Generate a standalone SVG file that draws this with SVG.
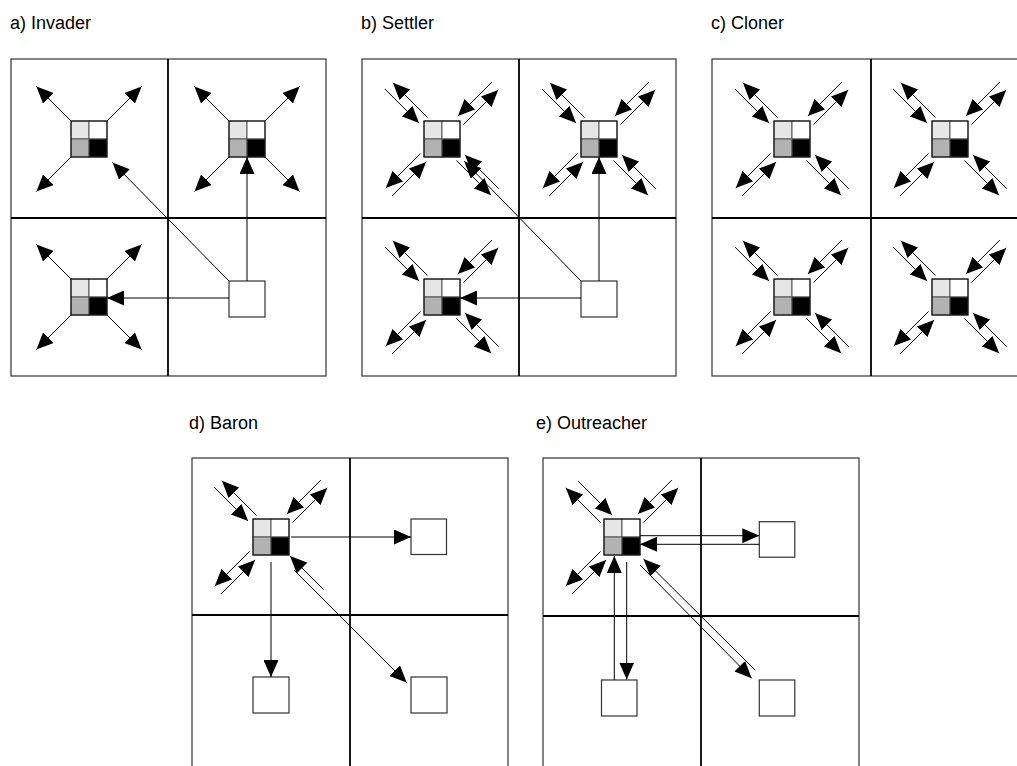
<svg xmlns="http://www.w3.org/2000/svg" width="1017" height="766" viewBox="0 0 1017 766">
<style>
.bg{fill:#fff}
.frame{fill:none;stroke:#333;stroke-width:1.2}
.mid{stroke:#000;stroke-width:1.8}
.c1{fill:#e6e6e6}.c2{fill:#fff}.c3{fill:#b2b2b2}.c4{fill:#000}
.cell{stroke:#555;stroke-width:1}
.qb{fill:none;stroke:#000;stroke-width:1}
.plain{fill:#fff;stroke:#333;stroke-width:1.2}
.ar{stroke:#000;stroke-width:1;fill:none;marker-end:url(#ah)}
.lbl{font-family:"Liberation Sans",Arial,sans-serif;font-size:18px;fill:#000}
</style>
<defs>
<marker id="ah" viewBox="0 0 17 15" refX="17" refY="7.5" markerWidth="17" markerHeight="15" markerUnits="userSpaceOnUse" orient="auto"><path d="M0,0L17,7.5L0,15z" fill="#000"/></marker>
</defs>
<rect class="bg" x="0" y="0" width="1017" height="766"/>

<g id="labels">
<text class="lbl" x="10" y="29">a) Invader</text>
<text class="lbl" x="361" y="29">b) Settler</text>
<text class="lbl" x="711" y="29">c) Cloner</text>
<text class="lbl" x="189" y="429">d) Baron</text>
<text class="lbl" x="536" y="429">e) Outreacher</text>
</g>

<g id="frames">
<g id="frame-a"><rect class="frame" x="11" y="59" width="315" height="317"/><line class="mid" x1="168" y1="59" x2="168" y2="376"/><line class="mid" x1="11" y1="218" x2="326" y2="218"/></g>
<g id="frame-b"><rect class="frame" x="362" y="59" width="314" height="317"/><line class="mid" x1="519" y1="59" x2="519" y2="376"/><line class="mid" x1="362" y1="218" x2="676" y2="218"/></g>
<g id="frame-c"><rect class="frame" x="712" y="59" width="317" height="317"/><line class="mid" x1="871" y1="59" x2="871" y2="376"/><line class="mid" x1="712" y1="218" x2="1029" y2="218"/></g>
<g id="frame-d"><rect class="frame" x="192" y="458" width="316" height="320"/><line class="mid" x1="350" y1="458" x2="350" y2="778"/><line class="mid" x1="192" y1="615" x2="508" y2="615"/></g>
<g id="frame-e"><rect class="frame" x="543" y="458" width="316" height="320"/><line class="mid" x1="701" y1="458" x2="701" y2="778"/><line class="mid" x1="543" y1="616" x2="859" y2="616"/></g>
</g>

<g id="nodes">
<g id="a-q1"><rect class="cell c1" x="71" y="121" width="18" height="18"/><rect class="cell c2" x="89" y="121" width="18" height="18"/><rect class="cell c3" x="71" y="139" width="18" height="18"/><rect class="cell c4" x="89" y="139" width="18" height="18"/><rect class="qb" x="71" y="121" width="36" height="36"/></g>
<g id="a-q2"><rect class="cell c1" x="229" y="121" width="18" height="18"/><rect class="cell c2" x="247" y="121" width="18" height="18"/><rect class="cell c3" x="229" y="139" width="18" height="18"/><rect class="cell c4" x="247" y="139" width="18" height="18"/><rect class="qb" x="229" y="121" width="36" height="36"/></g>
<g id="a-q3"><rect class="cell c1" x="71" y="279" width="18" height="18"/><rect class="cell c2" x="89" y="279" width="18" height="18"/><rect class="cell c3" x="71" y="297" width="18" height="18"/><rect class="cell c4" x="89" y="297" width="18" height="18"/><rect class="qb" x="71" y="279" width="36" height="36"/></g>
<g id="a-p"><rect class="plain" x="229" y="281" width="36" height="36"/></g>

<g id="b-q1"><rect class="cell c1" x="424" y="121" width="18" height="18"/><rect class="cell c2" x="442" y="121" width="18" height="18"/><rect class="cell c3" x="424" y="139" width="18" height="18"/><rect class="cell c4" x="442" y="139" width="18" height="18"/><rect class="qb" x="424" y="121" width="36" height="36"/></g>
<g id="b-q2"><rect class="cell c1" x="581" y="121" width="18" height="18"/><rect class="cell c2" x="599" y="121" width="18" height="18"/><rect class="cell c3" x="581" y="139" width="18" height="18"/><rect class="cell c4" x="599" y="139" width="18" height="18"/><rect class="qb" x="581" y="121" width="36" height="36"/></g>
<g id="b-q3"><rect class="cell c1" x="424" y="279" width="18" height="18"/><rect class="cell c2" x="442" y="279" width="18" height="18"/><rect class="cell c3" x="424" y="297" width="18" height="18"/><rect class="cell c4" x="442" y="297" width="18" height="18"/><rect class="qb" x="424" y="279" width="36" height="36"/></g>
<g id="b-p"><rect class="plain" x="581" y="281" width="36" height="36"/></g>

<g id="c-q1"><rect class="cell c1" x="774" y="121" width="18" height="18"/><rect class="cell c2" x="792" y="121" width="18" height="18"/><rect class="cell c3" x="774" y="139" width="18" height="18"/><rect class="cell c4" x="792" y="139" width="18" height="18"/><rect class="qb" x="774" y="121" width="36" height="36"/></g>
<g id="c-q2"><rect class="cell c1" x="932" y="121" width="18" height="18"/><rect class="cell c2" x="950" y="121" width="18" height="18"/><rect class="cell c3" x="932" y="139" width="18" height="18"/><rect class="cell c4" x="950" y="139" width="18" height="18"/><rect class="qb" x="932" y="121" width="36" height="36"/></g>
<g id="c-q3"><rect class="cell c1" x="774" y="279" width="18" height="18"/><rect class="cell c2" x="792" y="279" width="18" height="18"/><rect class="cell c3" x="774" y="297" width="18" height="18"/><rect class="cell c4" x="792" y="297" width="18" height="18"/><rect class="qb" x="774" y="279" width="36" height="36"/></g>
<g id="c-q4"><rect class="cell c1" x="932" y="279" width="18" height="18"/><rect class="cell c2" x="950" y="279" width="18" height="18"/><rect class="cell c3" x="932" y="297" width="18" height="18"/><rect class="cell c4" x="950" y="297" width="18" height="18"/><rect class="qb" x="932" y="279" width="36" height="36"/></g>

<g id="d-q"><rect class="cell c1" x="253" y="519" width="18" height="18"/><rect class="cell c2" x="271" y="519" width="18" height="18"/><rect class="cell c3" x="253" y="537" width="18" height="18"/><rect class="cell c4" x="271" y="537" width="18" height="18"/><rect class="qb" x="253" y="519" width="36" height="36"/></g>
<g id="d-p1"><rect class="plain" x="411" y="519" width="35.5" height="35.5"/></g>
<g id="d-p2"><rect class="plain" x="253" y="677" width="36" height="36"/></g>
<g id="d-p3"><rect class="plain" x="411" y="677" width="36" height="36"/></g>

<g id="e-q"><rect class="cell c1" x="604" y="519" width="18" height="18"/><rect class="cell c2" x="622" y="519" width="18" height="18"/><rect class="cell c3" x="604" y="537" width="18" height="18"/><rect class="cell c4" x="622" y="537" width="18" height="18"/><rect class="qb" x="604" y="519" width="36" height="36"/></g>
<g id="e-p1"><rect class="plain" x="759.3" y="521.7" width="35.5" height="35.5"/></g>
<g id="e-p2"><rect class="plain" x="601.5" y="680" width="35.5" height="36"/></g>
<g id="e-p3"><rect class="plain" x="759.3" y="680" width="35.5" height="36"/></g>
</g>

<g id="connectors">
<g id="conn-a">
<line class="ar" x1="71" y1="121" x2="36.4" y2="86.4"/>
<line class="ar" x1="107" y1="121" x2="141.6" y2="86.4"/>
<line class="ar" x1="71" y1="157" x2="36.4" y2="191.6"/>
<line class="ar" x1="229" y1="121" x2="194.4" y2="86.4"/>
<line class="ar" x1="265" y1="121" x2="299.6" y2="86.4"/>
<line class="ar" x1="229" y1="157" x2="194.4" y2="191.6"/>
<line class="ar" x1="265" y1="157" x2="299.6" y2="191.6"/>
<line class="ar" x1="71" y1="279" x2="36.4" y2="244.4"/>
<line class="ar" x1="107" y1="279" x2="141.6" y2="244.4"/>
<line class="ar" x1="71" y1="315" x2="36.4" y2="349.6"/>
<line class="ar" x1="107" y1="315" x2="141.6" y2="349.6"/>
<line class="ar" x1="229" y1="281" x2="112.5" y2="162.5"/>
<line class="ar" x1="247" y1="281" x2="247" y2="157"/>
<line class="ar" x1="229" y1="298" x2="107" y2="298"/>
</g>
<g id="conn-b">
<line class="ar" x1="427.5" y1="117.5" x2="392.9" y2="82.8"/><line class="ar" x1="385.1" y1="89.2" x2="419.1" y2="123.1"/>
<line class="ar" x1="463.5" y1="124.5" x2="498.2" y2="89.9"/><line class="ar" x1="491.8" y1="82.1" x2="457.9" y2="116.1"/>
<line class="ar" x1="456.5" y1="160.5" x2="491.1" y2="195.2"/><line class="ar" x1="498.9" y1="188.8" x2="465" y2="154.9"/>
<line class="ar" x1="420.5" y1="153.5" x2="385.8" y2="188.1"/><line class="ar" x1="392.2" y1="195.9" x2="426.1" y2="161.9"/>
<line class="ar" x1="581" y1="281" x2="464.2" y2="161.2"/>
<line class="ar" x1="584.5" y1="117.5" x2="549.9" y2="82.8"/><line class="ar" x1="542.1" y1="89.2" x2="576.1" y2="123.1"/>
<line class="ar" x1="620.5" y1="124.5" x2="655.2" y2="89.9"/><line class="ar" x1="648.8" y1="82.1" x2="614.9" y2="116.1"/>
<line class="ar" x1="613.5" y1="160.5" x2="648.1" y2="195.2"/><line class="ar" x1="655.9" y1="188.8" x2="622" y2="154.9"/>
<line class="ar" x1="577.5" y1="153.5" x2="542.8" y2="188.1"/><line class="ar" x1="549.2" y1="195.9" x2="583.1" y2="161.9"/>
<line class="ar" x1="599" y1="281" x2="599" y2="157"/>
<line class="ar" x1="427.5" y1="275.5" x2="392.9" y2="240.8"/><line class="ar" x1="385.1" y1="247.2" x2="419.1" y2="281.1"/>
<line class="ar" x1="463.5" y1="282.5" x2="498.2" y2="247.9"/><line class="ar" x1="491.8" y1="240.1" x2="457.9" y2="274.1"/>
<line class="ar" x1="456.5" y1="318.5" x2="491.1" y2="353.2"/><line class="ar" x1="498.9" y1="346.8" x2="465" y2="312.9"/>
<line class="ar" x1="420.5" y1="311.5" x2="385.8" y2="346.1"/><line class="ar" x1="392.2" y1="353.9" x2="426.1" y2="319.9"/>
<line class="ar" x1="581" y1="298" x2="460" y2="298"/>
</g>
<g id="conn-c">
<line class="ar" x1="777.5" y1="117.5" x2="742.9" y2="82.8"/><line class="ar" x1="735.1" y1="89.2" x2="769.1" y2="123.1"/>
<line class="ar" x1="813.5" y1="124.5" x2="848.2" y2="89.9"/><line class="ar" x1="841.8" y1="82.1" x2="807.9" y2="116.1"/>
<line class="ar" x1="806.5" y1="160.5" x2="841.1" y2="195.2"/><line class="ar" x1="848.9" y1="188.8" x2="815" y2="154.9"/>
<line class="ar" x1="770.5" y1="153.5" x2="735.8" y2="188.1"/><line class="ar" x1="742.2" y1="195.9" x2="776.1" y2="161.9"/>
<line class="ar" x1="935.5" y1="117.5" x2="900.9" y2="82.8"/><line class="ar" x1="893.1" y1="89.2" x2="927.1" y2="123.1"/>
<line class="ar" x1="971.5" y1="124.5" x2="1006.2" y2="89.9"/><line class="ar" x1="999.8" y1="82.1" x2="965.9" y2="116.1"/>
<line class="ar" x1="964.5" y1="160.5" x2="999.1" y2="195.2"/><line class="ar" x1="1006.9" y1="188.8" x2="973" y2="154.9"/>
<line class="ar" x1="928.5" y1="153.5" x2="893.8" y2="188.1"/><line class="ar" x1="900.2" y1="195.9" x2="934.1" y2="161.9"/>
<line class="ar" x1="777.5" y1="275.5" x2="742.9" y2="240.8"/><line class="ar" x1="735.1" y1="247.2" x2="769.1" y2="281.1"/>
<line class="ar" x1="813.5" y1="282.5" x2="848.2" y2="247.9"/><line class="ar" x1="841.8" y1="240.1" x2="807.9" y2="274.1"/>
<line class="ar" x1="806.5" y1="318.5" x2="841.1" y2="353.2"/><line class="ar" x1="848.9" y1="346.8" x2="815" y2="312.9"/>
<line class="ar" x1="770.5" y1="311.5" x2="735.8" y2="346.1"/><line class="ar" x1="742.2" y1="353.9" x2="776.1" y2="319.9"/>
<line class="ar" x1="935.5" y1="275.5" x2="900.9" y2="240.8"/><line class="ar" x1="893.1" y1="247.2" x2="927.1" y2="281.1"/>
<line class="ar" x1="971.5" y1="282.5" x2="1006.2" y2="247.9"/><line class="ar" x1="999.8" y1="240.1" x2="965.9" y2="274.1"/>
<line class="ar" x1="964.5" y1="318.5" x2="999.1" y2="353.2"/><line class="ar" x1="1006.9" y1="346.8" x2="973" y2="312.9"/>
<line class="ar" x1="928.5" y1="311.5" x2="893.8" y2="346.1"/><line class="ar" x1="900.2" y1="353.9" x2="934.1" y2="319.9"/>
</g>
<g id="conn-d">
<line class="ar" x1="256.5" y1="515.5" x2="221.9" y2="480.8"/><line class="ar" x1="214.1" y1="487.2" x2="248.1" y2="521.1"/>
<line class="ar" x1="292.5" y1="522.5" x2="327.2" y2="487.9"/><line class="ar" x1="320.8" y1="480.1" x2="286.9" y2="514.1"/>
<line class="ar" x1="249.5" y1="551.5" x2="214.8" y2="586.1"/><line class="ar" x1="221.2" y1="593.9" x2="255.1" y2="559.9"/>
<line class="ar" x1="323.6" y1="589.6" x2="290" y2="556"/>
<line class="ar" x1="294" y1="570" x2="406.7" y2="682.6"/>
<line class="ar" x1="291" y1="537" x2="411" y2="537"/>
<line class="ar" x1="271" y1="562" x2="271" y2="677"/>
</g>
<g id="conn-e">
<line class="ar" x1="600.5" y1="522.5" x2="565.8" y2="487.9"/><line class="ar" x1="578.2" y1="481.2" x2="612.1" y2="515.1"/>
<line class="ar" x1="643.5" y1="522.5" x2="678.2" y2="487.9"/><line class="ar" x1="671.8" y1="480.1" x2="637.9" y2="514.1"/>
<line class="ar" x1="600.5" y1="551.5" x2="565.8" y2="586.1"/><line class="ar" x1="572.2" y1="593.9" x2="606.1" y2="559.9"/>
<line class="ar" x1="755.3" y1="670.3" x2="643.5" y2="559"/>
<line class="ar" x1="640" y1="565" x2="751.7" y2="678.3"/>
<line class="ar" x1="640" y1="535.7" x2="759.3" y2="535.7"/>
<line class="ar" x1="759.3" y1="544.3" x2="640" y2="544.3"/>
<line class="ar" x1="614.3" y1="680" x2="614.3" y2="556"/>
<line class="ar" x1="626.7" y1="562" x2="626.7" y2="679.5"/>
</g>
</g>
</svg>
